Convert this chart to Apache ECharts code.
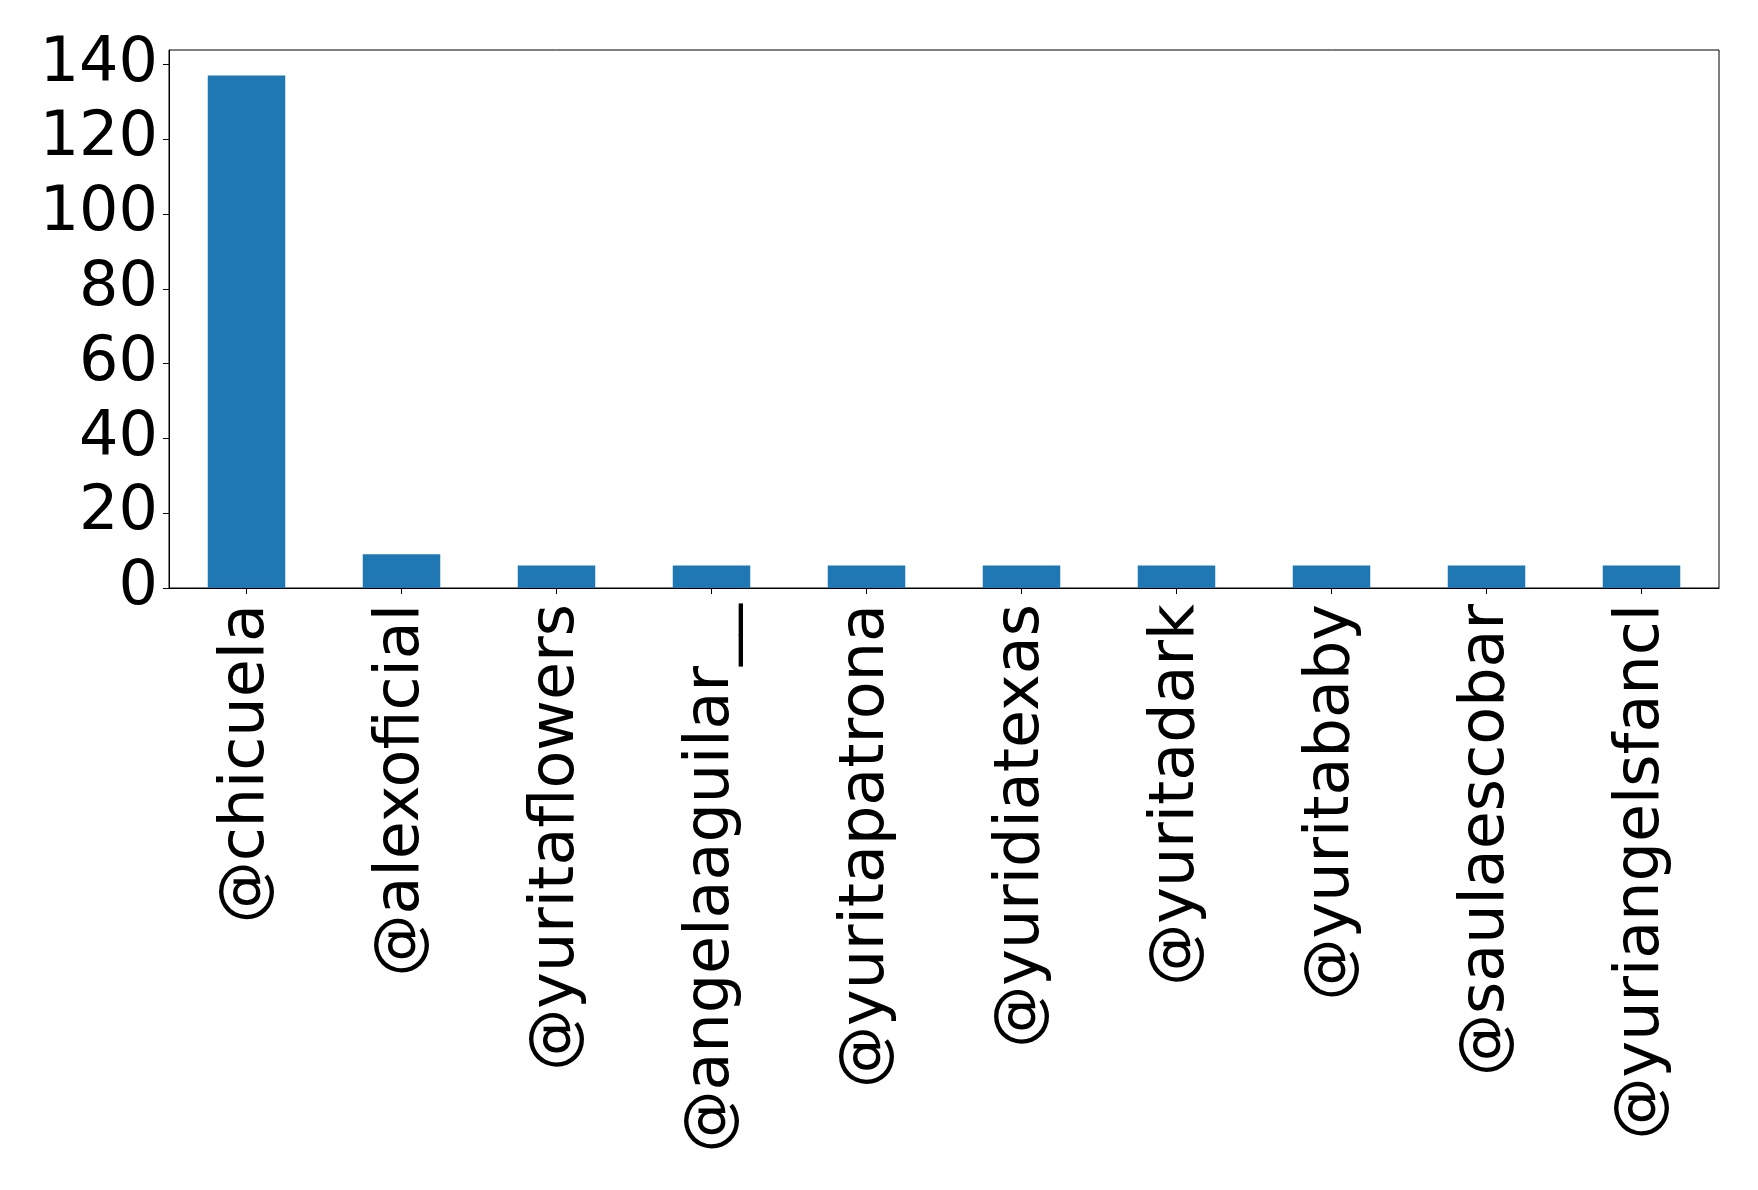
<!DOCTYPE html>
<html>
<head>
<meta charset="utf-8">
<script src="https://cdn.jsdelivr.net/npm/echarts@6/dist/echarts.min.js"></script>
<style>
  html, body { margin: 0; padding: 0; background: #fff; }
  #chart { width: 1758px; height: 1190px; }
</style>
</head>
<body>
<div id="chart"></div>
<script>
const categories = ['@chicuela', '@alexoficial', '@yuritaflowers', '@angelaaguilar__', '@yuritapatrona', '@yuridiatexas', '@yuritadark', '@yuritababy', '@saulaescobar', '@yuriangelsfancl'];
const counts = [137, 9, 6, 6, 6, 6, 6, 6, 6, 6];
const yTicks = [0, 20, 40, 60, 80, 100, 120, 140];
const yMax = 143.85;

const chart = echarts.init(document.getElementById('chart'), null, { renderer: 'canvas' });
const font = 'DejaVu Sans';
chart.setOption({
  animation: false,
  backgroundColor: '#ffffff',
  grid: {
    left: 169, right: 39, top: 50, bottom: 602,
    show: true, borderColor: '#000', borderWidth: 1, backgroundColor: 'transparent'
  },
  xAxis: {
    type: 'category',
    data: categories,
    boundaryGap: true,
    axisLine: { show: true, lineStyle: { color: '#000', width: 1 } },
    axisTick: { show: true, alignWithLabel: true, inside: false, length: 6, lineStyle: { color: '#000' } },
    axisLabel: { rotate: 90, fontSize: 62, fontFamily: font, color: '#000', margin: 16, interval: 0 },
    splitLine: { show: false }
  },
  yAxis: {
    type: 'value',
    min: 0,
    max: yMax,
    axisLine: { show: true, lineStyle: { color: '#000', width: 1 } },
    axisTick: { show: true, inside: false, length: 6, lineStyle: { color: '#000' }, customValues: yTicks },
    axisLabel: { fontSize: 62, fontFamily: font, color: '#000', margin: 11, customValues: yTicks },
    splitLine: { show: false }
  },
  series: [{
    type: 'bar',
    data: counts,
    barWidth: '50%',
    itemStyle: { color: '#1f77b4' }
  }]
});
</script>
</body>
</html>
